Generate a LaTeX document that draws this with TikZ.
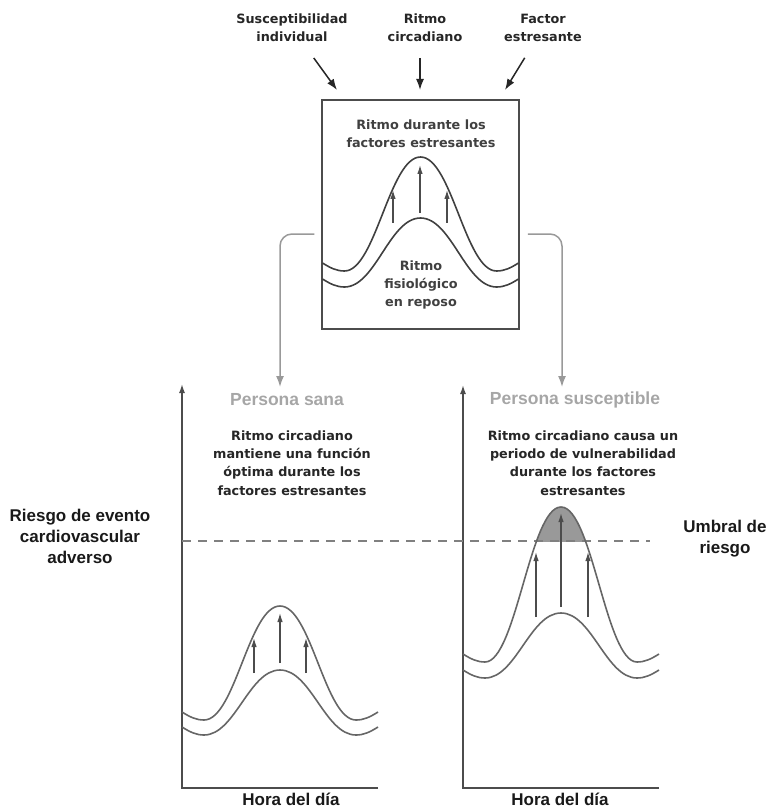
\documentclass[tikz,border=0pt]{standalone}
\usepackage{fontspec}
\setmainfont{Liberation Sans}
\newfontfamily\dejavu{DejaVu Sans}
\usetikzlibrary{arrows.meta,calc}

% cx, y of the minimum, y of the peak (y grows downwards)
\newcommand{\onda}[3]{(#1-98,#2-8) .. controls (#1-90,#2-3) and (#1-84,#2) .. (#1-76,#2) .. controls (#1-45,#2) and (#1-31,#3) .. (#1,#3) .. controls (#1+31,#3) and (#1+45,#2) .. (#1+76,#2) .. controls (#1+84,#2) and (#1+90,#2-3) .. (#1+98,#2-8)}

\begin{document}
\begin{tikzpicture}[x=1pt, y=-1pt,
    chico/.style={font=\dejavu\bfseries\fontsize{12.8}{18.3}\selectfont, align=center, text=black!85},
    grande/.style={font=\bfseries\fontsize{17}{21}\selectfont, align=center, text=black!90},
    titulo/.style={font=\bfseries\fontsize{17.5}{21}\selectfont, text=black!35},
    flecha/.style={draw=black!85, line width=1.5pt, -{Latex[length=11pt,width=8pt]}},
    subida/.style={draw=black!70, line width=1.2pt, -{Latex[length=9pt,width=5.5pt]}},
    gris/.style={draw=black!40, line width=1.5pt, rounded corners=12pt, -{Latex[length=11pt,width=8pt]}},
    curva/.style={draw=black!60, line width=1.6pt},
    eje/.style={draw=black!70, line width=1.5pt, -{Latex[length=9pt,width=6pt]}},
    umbral/.style={draw=black!50, line width=1.5pt, dash pattern=on 9pt off 7pt}]
    \useasboundingbox (0,0) rectangle (771,810);

    % factores de entrada
    \begin{scope}
        \tikzstyle{every node}=[chico]
        \node (susc) at (292,28) {Susceptibilidad\\individual};
        \node (ritmo) at (425,28) {Ritmo\\circadiano};
        \node (factor) at (543,28) {Factor\\estresante};
    \end{scope}
    \node[draw=black!70, line width=1.5pt, minimum width=197pt, minimum height=229pt] (caja) at (420.5,214.5) {};
    \coordinate (t1) at (337,90);
    \coordinate (t2) at (420,90);
    \coordinate (t3) at (505,90);
    \draw[flecha, shorten <=37pt] (susc.center) -- (t1);
    \draw[flecha, shorten <=30pt] (ritmo.center -| t2) -- (t2);
    \draw[flecha, shorten <=35pt] (factor.center) -- (t3);

    % dentro de la caja
    \begin{scope}
        \tikzstyle{every node}=[chico, text=black!75]
        \node (durante) at (421,134) {Ritmo durante los\\factores estresantes};
        \node (reposo) at (421,285) {Ritmo\\fisiológico\\en reposo};
    \end{scope}
    \draw[curva, draw=black!75] \onda{420.5}{271}{157};
    \draw[curva, draw=black!75] \onda{420.5}{287}{218};
    \draw[subida] (393,223) -- (393,190);
    \draw[subida] (420,213) -- (420,165);
    \draw[subida] (447,223) -- (447,190);

    % hacia las dos personas
    \coordinate (e1) at (280,387);
    \coordinate (e2) at (562,387);
    \draw[gris] ($(caja.west)+(-7,19.5)$) -| (e1);
    \draw[gris] ($(caja.east)+(8,19.5)$) -| (e2);

    % graficas
    \begin{scope}
        \clip (463,480) rectangle (659,541);
        \fill[black!40] \onda{561}{662}{507};
    \end{scope}
    \draw[eje] (378,788) -| (182,384);
    \draw[eje] (659,788) -| (463,385);
    \draw[umbral] (182,541) -- (650,541);
    \draw[curva] \onda{280}{720}{606};
    \draw[curva] \onda{280}{735}{670};
    \draw[curva] \onda{561}{662}{507};
    \draw[curva] \onda{561}{678}{613};
    \draw[subida] (254,673) -- (254,638);
    \draw[subida] (280,663) -- (280,613);
    \draw[subida] (306,673) -- (306,638);
    \draw[subida] (536,617) -- (536,552);
    \draw[subida] (561,607) -- (561,513);
    \draw[subida] (588,617) -- (588,552);

    \node[titulo] (sana) at (287,400) {Persona sana};
    \node[titulo] (susceptible) at (575,400) {Persona susceptible};
    \node[chico] (txtsana) at (292,463) {Ritmo circadiano\\mantiene una función\\óptima durante los\\factores estresantes};
    \node[chico] (txtsusc) at (583,463) {Ritmo circadiano causa un\\periodo de vulnerabilidad\\durante los factores\\estresantes};
    \node[grande] (riesgo) at (80,536) {Riesgo de evento\\cardiovascular\\adverso};
    \node[grande] (umbral) at (725,539) {Umbral de\\riesgo};
    \node[grande] (hora1) at (291,799) {Hora del día};
    \node[grande] (hora2) at (560,799) {Hora del día};
\end{tikzpicture}
\end{document}
